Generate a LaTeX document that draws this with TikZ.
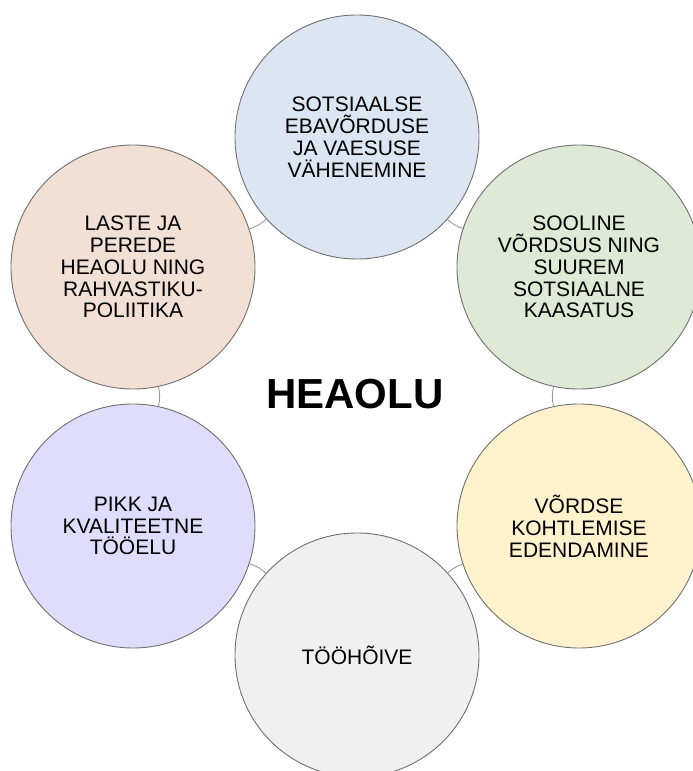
\documentclass[tikz,border=0pt]{standalone}
\usepackage{fontspec}
\setmainfont{Liberation Sans}
\definecolor{cblue}{HTML}{DCE6F2}
\definecolor{cpeach}{HTML}{F3E0D4}
\definecolor{cgreen}{HTML}{DEEAD6}
\definecolor{cyellow}{HTML}{FFF2CC}
\definecolor{clav}{HTML}{DEDEFC}
\definecolor{cgrey}{HTML}{F0F0F0}
\definecolor{cborder}{HTML}{707070}
\definecolor{cconn}{HTML}{9A9A9A}
\tikzset{
  bubble/.style={circle, draw=cborder, line width=0.9pt, minimum size=244pt, inner sep=0pt,
    align=center, font=\fontsize{21}{21.8}\selectfont, text=black},
  conn/.style={draw=cconn, line width=0.9pt},
  title/.style={font=\fontsize{42}{44}\selectfont\bfseries, inner sep=0pt}
}
\begin{document}
\begin{tikzpicture}[x=1pt,y=-1pt]
\useasboundingbox (0,0) rectangle (693,771);
\node[bubble, fill=cblue]   (top) at (357,137) {SOTSIAALSE\\EBAVÕRDUSE\\JA VAESUSE\\VÄHENEMINE};
\node[bubble, fill=cpeach]  (lu)  at (133,267) {LASTE JA\\PEREDE\\HEAOLU NING\\RAHVASTIKU-\\POLIITIKA};
\node[bubble, fill=clav]    (ll)  at (133,526) {PIKK JA\\KVALITEETNE\\TÖÖELU};
\node[bubble, fill=cgrey]   (bot) at (357,655) {TÖÖHÕIVE};
\node[bubble, fill=cyellow] (rl)  at (579,526) {VÕRDSE\\KOHTLEMISE\\EDENDAMINE};
\node[bubble, fill=cgreen]  (ru)  at (579,267) {SOOLINE\\VÕRDSUS NING\\SUUREM\\SOTSIAALNE\\KAASATUS};
\node[title] (c) at (355,394) {HEAOLU};
\draw[conn] (top) to[bend left=12] (lu);
\draw[conn] (lu)  to[bend left=12] (ll);
\draw[conn] (ll)  to[bend left=12] (bot);
\draw[conn] (bot) to[bend left=12] (rl);
\draw[conn] (rl)  to[bend left=12] (ru);
\draw[conn] (ru)  to[bend left=12] (top);
\end{tikzpicture}
\end{document}
